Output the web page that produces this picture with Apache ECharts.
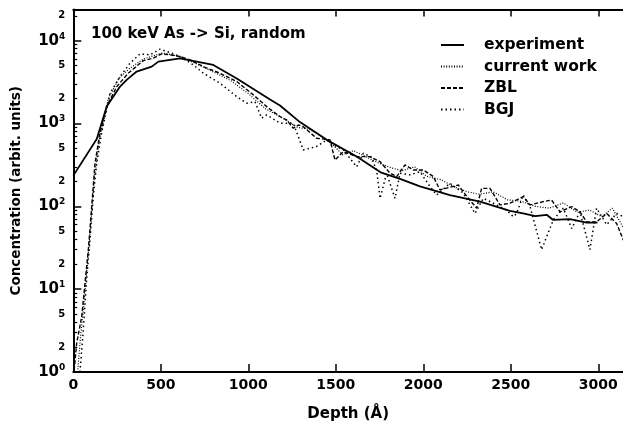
<!DOCTYPE html>
<html>
<head>
<meta charset="utf-8">
<script src="https://cdn.jsdelivr.net/npm/echarts@6/dist/echarts.min.js"></script>
<style>html,body{margin:0;padding:0;background:#fff}#c{width:623px;height:425px}</style>
</head>
<body>
<div id="c"></div>
<script>
// ---- data (depth in Å, concentration in arbitrary units) ----
var seriesNames = ['experiment', 'current work', 'ZBL', 'BGJ'];
var xTicks = [0, 500, 1000, 1500, 2000, 2500, 3000];
var yLabelValues = [1, 2, 5, 10, 20, 50, 100, 200, 500, 1000, 2000, 5000, 10000, 20000];
var yMinorValues = [2,3,4,5,6,7,8,9,20,30,40,50,60,70,80,90,200,300,400,500,600,700,800,900,
  2000,3000,4000,5000,6000,7000,8000,9000,20000];

var expDepth = [0, 134, 191, 267, 305, 362, 448, 486, 553, 610, 800, 934, 1124, 1181, 1295, 1448, 1619, 1760, 1867, 1981, 2152, 2324, 2495, 2570, 2640, 2705, 2742, 2838, 2933, 2995];
var expConc  = [235, 650, 1600, 2790, 3360, 4240, 4860, 5590, 5860, 6100, 5100, 3500, 1950, 1650, 1040, 635, 400, 255, 215, 174, 137, 114, 88, 82, 76, 79, 68.5, 70, 63.5, 63.5];

var cwDepth = [25, 40, 60, 80, 100, 120, 150, 200, 260, 320, 400, 460, 510, 560, 620, 700, 800, 900, 1000, 1100, 1200, 1280, 1350, 1420, 1480, 1540, 1600, 1680, 1750, 1820, 1880, 1950, 2020, 2100, 2180, 2250, 2320, 2400, 2480, 2560, 2640, 2720, 2800, 2880, 2950, 3020, 3080, 3143];
var cwConc  = [1, 2.5, 6.5, 20, 60, 220, 650, 2000, 3500, 4600, 6000, 6600, 7100, 6800, 6300, 5300, 4200, 3300, 2300, 1500, 1150, 900, 850, 700, 560, 420, 470, 390, 330, 290, 270, 300, 230, 210, 170, 150, 140, 150, 120, 115, 100, 95, 110, 85, 90, 75, 95, 55];

var zblDepth = [5, 19, 48, 67, 86, 105, 124, 152, 191, 248, 314, 400, 457, 505, 553, 610, 667, 743, 838, 934, 1029, 1105, 1181, 1219, 1257, 1286, 1314, 1390, 1467, 1495, 1543, 1619, 1695, 1753, 1810, 1848, 1895, 1943, 2000, 2057, 2095, 2200, 2257, 2305, 2333, 2381, 2438, 2495, 2571, 2610, 2686, 2733, 2781, 2848, 2895, 2933, 2990, 3048, 3105, 3143];
var zblConc  = [1.05, 2.2, 4.65, 11.9, 30, 99, 332, 764, 1600, 2790, 4050, 5750, 6150, 6920, 6740, 6440, 5870, 4860, 4050, 3210, 2215, 1600, 1210, 1105, 877, 960, 916, 665, 635, 363, 458, 398, 398, 347, 251, 229, 316, 275, 275, 229, 158, 181, 125, 95, 165, 165, 104, 109, 131, 104, 114, 119, 86, 99, 86, 65, 65, 82, 62, 39];

var bgjDepth = [38, 57, 76, 95, 114, 134, 162, 210, 267, 324, 381, 438, 495, 553, 610, 686, 743, 838, 934, 991, 1038, 1076, 1105, 1181, 1257, 1314, 1390, 1448, 1480, 1543, 1619, 1657, 1700, 1733, 1753, 1790, 1838, 1867, 1924, 1981, 2038, 2076, 2152, 2229, 2295, 2343, 2400, 2476, 2514, 2533, 2571, 2610, 2676, 2743, 2800, 2848, 2895, 2952, 2990, 3048, 3105, 3143];
var bgjConc  = [1, 3.2, 12.9, 39, 131, 332, 771, 2320, 3680, 5350, 6920, 6740, 7890, 7190, 6440, 5100, 4050, 3070, 2110, 1760, 1840, 1160, 1270, 1010, 1010, 480, 527, 635, 560, 480, 300, 437, 398, 275, 125, 251, 125, 251, 240, 262, 174, 137, 190, 144, 82, 125, 109, 90, 75, 82, 137, 99, 30, 69, 95, 54, 86, 30, 95, 60, 82, 75];

function zip(xs, ys) { return xs.map(function (x, i) { return [x, ys[i]]; }); }

var FONT = 'DejaVu Sans';
var chart = echarts.init(document.getElementById('c'), null, { renderer: 'canvas' });

function yFmt(v) {
  var e = Math.round(Math.log10(v));
  if (Math.abs(v - Math.pow(10, e)) < 1e-6 * v) return '{b|10}{s|' + e + '}';
  var p = Math.floor(Math.log10(v) + 1e-9);
  return '{m|' + Math.round(v / Math.pow(10, p)) + '}';
}

var option = {
  animation: false,
  backgroundColor: '#fff',
  title: {
    text: '100 keV As -> Si, random',
    left: 91, top: 27, padding: 0,
    textStyle: { fontFamily: FONT, fontWeight: 'bold', fontSize: 15, color: '#000' }
  },
  legend: {
    orient: 'vertical', left: 440, top: 37, padding: 0,
    itemWidth: 23, itemHeight: 14, itemGap: 5.5,
    data: seriesNames,
    itemStyle: { opacity: 0, borderWidth: 0 },
    textStyle: { fontFamily: FONT, fontWeight: 'bold', fontSize: 15.5, color: '#000', padding: [0, 0, 0, 15] }
  },
  grid: { left: 73.3, right: 0, top: 9.5, bottom: 53, outerBoundsMode: 'none', containLabel: false },
  xAxis: [{
    type: 'value', position: 'bottom', min: 0, max: 3141, interval: 500,
    name: 'Depth (Å)', nameLocation: 'middle', nameGap: 35,
    nameTextStyle: { fontFamily: FONT, fontWeight: 'bold', fontSize: 15, color: '#000' },
    axisLine: { show: true, onZero: false, lineStyle: { color: '#000', width: 2 } },
    axisTick: { show: true, inside: true, length: 8, customValues: xTicks, lineStyle: { color: '#000', width: 1.5 } },
    axisLabel: { show: true, margin: 6, customValues: xTicks, formatter: function (v) { return String(v); },
      fontFamily: FONT, fontWeight: 'bold', fontSize: 14, color: '#000' },
    splitLine: { show: false }
  }, {
    type: 'value', position: 'top', min: 0, max: 3141, interval: 500,
    axisLine: { show: true, onZero: false, lineStyle: { color: '#000', width: 2 } },
    axisTick: { show: true, inside: true, length: 7, customValues: xTicks, lineStyle: { color: '#000', width: 1.5 } },
    axisLabel: { show: false },
    splitLine: { show: false }
  }],
  yAxis: [{
    type: 'log', logBase: 10, min: 1, max: 23800, position: 'left',
    name: 'Concentration (arbit. units)', nameLocation: 'middle', nameGap: 50, nameRotate: 90,
    nameTextStyle: { fontFamily: FONT, fontWeight: 'bold', fontSize: 13.5, color: '#000' },
    axisLine: { show: true, lineStyle: { color: '#000', width: 2 } },
    axisTick: { show: true, inside: true, length: 8, customValues: [1, 10, 100, 1000, 10000], lineStyle: { color: '#000', width: 1.5 } },
    axisLabel: {
      show: true, margin: 8, customValues: yLabelValues, formatter: yFmt,
      rich: {
        b: { fontFamily: FONT, fontWeight: 'bold', fontSize: 15, color: '#000', lineHeight: 18 },
        s: { fontFamily: FONT, fontWeight: 'bold', fontSize: 9, color: '#000', lineHeight: 9, verticalAlign: 'top' },
        m: { fontFamily: FONT, fontWeight: 'bold', fontSize: 10, color: '#000' }
      }
    },
    splitLine: { show: false }
  }, {
    type: 'log', logBase: 10, min: 1, max: 23800, position: 'left',
    axisLine: { show: false },
    axisTick: { show: true, inside: true, length: 4, customValues: yMinorValues, lineStyle: { color: '#000', width: 1.2 } },
    axisLabel: { show: false },
    splitLine: { show: false }
  }],
  series: [{
    name: 'experiment', type: 'line', xAxisIndex: 0, yAxisIndex: 0, symbol: 'none', z: 5,
    lineStyle: { color: '#000', width: 1.8, type: 'solid' }, itemStyle: { color: '#000' },
    data: zip(expDepth, expConc)
  }, {
    name: 'current work', type: 'line', xAxisIndex: 0, yAxisIndex: 0, symbol: 'none',
    lineStyle: { color: '#000', width: 1.2, type: [1, 1.6] }, itemStyle: { color: '#000' },
    data: zip(cwDepth, cwConc)
  }, {
    name: 'ZBL', type: 'line', xAxisIndex: 0, yAxisIndex: 0, symbol: 'none',
    lineStyle: { color: '#000', width: 1.4, type: [4, 2] }, itemStyle: { color: '#000' },
    data: zip(zblDepth, zblConc)
  }, {
    name: 'BGJ', type: 'line', xAxisIndex: 0, yAxisIndex: 0, symbol: 'none',
    lineStyle: { color: '#000', width: 1.5, type: [1.5, 3] }, itemStyle: { color: '#000' },
    data: zip(bgjDepth, bgjConc)
  }]
};
chart.setOption(option);
</script>
</body>
</html>
